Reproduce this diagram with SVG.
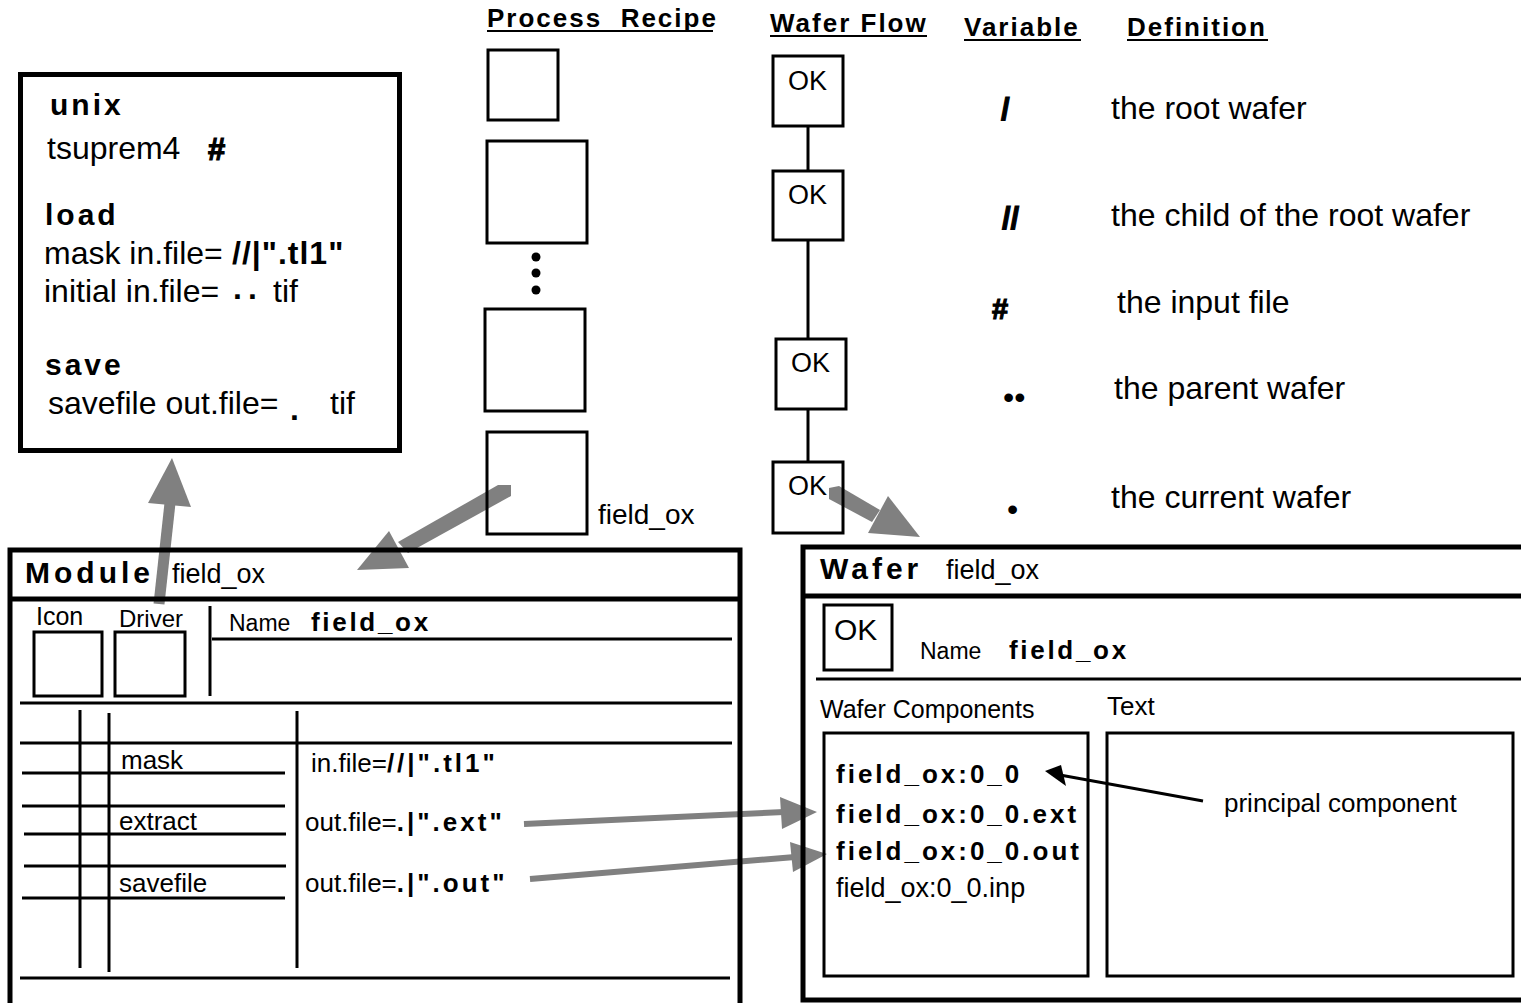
<svg xmlns="http://www.w3.org/2000/svg" width="1521" height="1003" viewBox="0 0 1521 1003">
<style>
.t{font-family:"Liberation Sans",Arial,sans-serif;fill:#000}
.b{font-weight:bold}
.hv{stroke:#000;stroke-width:1.2px}
.hd{font-weight:bold;font-size:26px;letter-spacing:2px}
.box{fill:none;stroke:#000;stroke-width:3}
.panel{fill:none;stroke:#000;stroke-width:5}
.ln{stroke:#000;stroke-width:3;fill:none}
.thick{stroke:#000;stroke-width:5}
.ul{stroke:#000;stroke-width:2}
.g{fill:#808080;stroke:none}
.gs{stroke:#808080;fill:none}
.comp{font-weight:bold;font-size:26px;letter-spacing:3px}
</style>
<rect width="1521" height="1003" fill="#fff"/>

<g id="connectors">
  <line class="gs" x1="159" y1="604" x2="170" y2="503" stroke-width="11"/>
  <polygon class="g" points="172,458 191,507 148,503"/>
  <polygon class="g" points="498,485 511,485 511,496 408,553 398,542"/>
  <polygon class="g" points="357,570 389,531 409,568"/>
  <polygon class="g" points="829,488 839,486 880,510 872,522 829,499"/>
  <polygon class="g" points="888,496 920,537 868,533"/>
  <line class="gs" x1="524" y1="824" x2="784" y2="812" stroke-width="6"/>
  <polygon class="g" points="780,797 817,812 782,829"/>
  <line class="gs" x1="530" y1="879" x2="795" y2="857" stroke-width="6"/>
  <polygon class="g" points="790,842 827,854 793,872"/>
  <line class="ln" x1="1203" y1="801" x2="1060" y2="775"/>
  <polygon points="1045,771 1061,765 1066,786" fill="#000"/>
</g>

<g id="headers">
  <text class="t hd" x="487" y="27" letter-spacing="1.8" xml:space="preserve">Process  Recipe</text>
  <line class="ul" x1="487" y1="31" x2="713" y2="31"/>
  <text class="t hd" x="770" y="32">Wafer Flow</text>
  <line class="ul" x1="770" y1="36" x2="927" y2="36"/>
  <text class="t hd" x="964" y="36" letter-spacing="2.3">Variable</text>
  <line class="ul" x1="964" y1="40" x2="1081" y2="40"/>
  <text class="t hd" x="1127" y="36" letter-spacing="2.3">Definition</text>
  <line class="ul" x1="1127" y1="40" x2="1268" y2="40"/>
</g>

<g id="script-box">
  <rect class="panel" x="20.5" y="74.5" width="379" height="376"/>
  <text class="t b" x="50" y="115" font-size="30" letter-spacing="3">unix</text>
  <text class="t" x="47" y="159" font-size="32">tsuprem4</text>
  <text class="t b hv" x="208" y="160" font-size="31">#</text>
  <text class="t b" x="45" y="225" font-size="30" letter-spacing="3">load</text>
  <text class="t" x="44" y="264" font-size="32">mask in.file=<tspan class="b" x="232" letter-spacing="1">//|".tl1"</tspan></text>
  <text class="t" x="44" y="302" font-size="32">initial in.file=</text>
  <text class="t b" x="233" y="299" font-size="32" letter-spacing="6">..</text>
  <text class="t" x="273" y="302" font-size="32">tif</text>
  <text class="t b" x="45" y="375" font-size="30" letter-spacing="3">save</text>
  <text class="t" x="48" y="414" font-size="32">savefile out.file=</text>
  <text class="t b" x="290" y="420" font-size="32">.</text>
  <text class="t" x="330" y="414" font-size="32">tif</text>
</g>

<g id="process-recipe">
  <rect class="box" x="488" y="50" width="70" height="70"/>
  <rect class="box" x="487" y="141" width="100" height="102"/>
  <circle cx="536" cy="257" r="4.5" fill="#000"/>
  <circle cx="536" cy="273" r="4.5" fill="#000"/>
  <circle cx="536" cy="290" r="4.5" fill="#000"/>
  <rect class="box" x="485" y="309" width="100" height="102"/>
  <rect class="box" x="487" y="432" width="100" height="102"/>
  <text class="t" x="598" y="524" font-size="28">field_ox</text>
</g>

<g id="wafer-flow">
  <line class="ln" x1="808" y1="126" x2="808" y2="171"/>
  <line class="ln" x1="808" y1="240" x2="808" y2="339"/>
  <line class="ln" x1="808" y1="409" x2="808" y2="462"/>
  <rect class="box" x="773" y="56" width="70" height="70"/>
  <text class="t" x="788" y="90" font-size="27">OK</text>
  <rect class="box" x="773" y="171" width="70" height="69"/>
  <text class="t" x="788" y="204" font-size="27">OK</text>
  <rect class="box" x="776" y="339" width="70" height="70"/>
  <text class="t" x="791" y="372" font-size="27">OK</text>
  <rect class="box" x="773" y="462" width="70" height="71"/>
  <text class="t" x="788" y="495" font-size="27">OK</text>
</g>

<g id="legend">
  <text class="t b hv" x="1001" y="120" font-size="31">/</text>
  <text class="t" x="1111" y="119" font-size="32">the root wafer</text>
  <text class="t b hv" x="1002" y="229" font-size="31">//</text>
  <text class="t" x="1111" y="226" font-size="32">the child of the root wafer</text>
  <text class="t b hv" x="992" y="319" font-size="29">#</text>
  <text class="t" x="1117" y="313" font-size="32">the input file</text>
  <text class="t" x="1003" y="408" font-size="32">••</text>
  <text class="t" x="1114" y="399" font-size="32">the parent wafer</text>
  <text class="t" x="1007" y="520" font-size="32">•</text>
  <text class="t" x="1111" y="508" font-size="32">the current wafer</text>
</g>

<g id="module-panel">
  <rect class="panel" x="10" y="550" width="730" height="470"/>
  <line class="thick" x1="10" y1="599" x2="740" y2="599"/>
  <text class="t b" x="25" y="583" font-size="30" letter-spacing="4">Module</text>
  <text class="t" x="172" y="583" font-size="27">field_ox</text>
  <text class="t" x="36" y="625" font-size="25">Icon</text>
  <text class="t" x="119" y="627" font-size="24">Driver</text>
  <rect class="box" x="34" y="632" width="68" height="64"/>
  <rect class="box" x="115" y="632" width="70" height="64"/>
  <line class="ln" x1="210" y1="606" x2="210" y2="696"/>
  <text class="t" x="229" y="631" font-size="23">Name</text>
  <text class="t b" x="311" y="631" font-size="26" letter-spacing="2.7">field_ox</text>
  <line class="ln" x1="212" y1="639" x2="732" y2="639"/>
  <line class="ln" x1="20" y1="703" x2="732" y2="703"/>
  <line class="ln" x1="80" y1="710" x2="80" y2="968"/>
  <line class="ln" x1="109" y1="713" x2="109" y2="972"/>
  <line class="ln" x1="297" y1="711" x2="297" y2="968"/>
  <line class="ln" x1="20" y1="743" x2="732" y2="743"/>
  <text class="t" x="121" y="769" font-size="26">mask</text>
  <line class="ln" x1="22" y1="773" x2="285" y2="773"/>
  <line class="ln" x1="22" y1="806" x2="285" y2="806"/>
  <text class="t" x="119" y="830" font-size="26">extract</text>
  <line class="ln" x1="24" y1="834" x2="286" y2="834"/>
  <line class="ln" x1="24" y1="866" x2="286" y2="866"/>
  <text class="t" x="119" y="892" font-size="26">savefile</text>
  <line class="ln" x1="22" y1="898" x2="285" y2="898"/>
  <line class="ln" x1="20" y1="978" x2="730" y2="978"/>
  <text class="t" x="311" y="772" font-size="26">in.file=<tspan class="b" letter-spacing="3">//|".tl1"</tspan></text>
  <text class="t" x="305" y="831" font-size="26">out.file=<tspan class="b" letter-spacing="3">.|".ext"</tspan></text>
  <text class="t" x="305" y="892" font-size="26">out.file=<tspan class="b" letter-spacing="3">.|".out"</tspan></text>
</g>

<g id="wafer-panel">
  <rect class="panel" x="803" y="547" width="730" height="453"/>
  <line class="thick" x1="803" y1="596" x2="1521" y2="596"/>
  <text class="t b" x="820" y="579" font-size="30" letter-spacing="4">Wafer</text>
  <text class="t" x="946" y="579" font-size="27">field_ox</text>
  <rect class="box" x="824" y="605" width="68" height="65"/>
  <text class="t" x="834" y="640" font-size="30">OK</text>
  <text class="t" x="920" y="659" font-size="23">Name</text>
  <text class="t b" x="1009" y="659" font-size="26" letter-spacing="2.7">field_ox</text>
  <line class="ln" x1="816" y1="679" x2="1521" y2="679"/>
  <text class="t" x="820" y="718" font-size="25">Wafer Components</text>
  <text class="t" x="1107" y="715" font-size="26">Text</text>
  <rect class="box" x="824" y="733" width="264" height="243"/>
  <rect class="box" x="1107" y="733" width="406" height="243"/>
  <text class="t comp" x="836" y="783">field_ox:0_0</text>
  <text class="t comp" x="836" y="823">field_ox:0_0.ext</text>
  <text class="t comp" x="836" y="860">field_ox:0_0.out</text>
  <text class="t" x="836" y="897" font-size="27">field_ox:0_0.inp</text>
  <text class="t" x="1224" y="812" font-size="26">principal component</text>
</g>
</svg>
